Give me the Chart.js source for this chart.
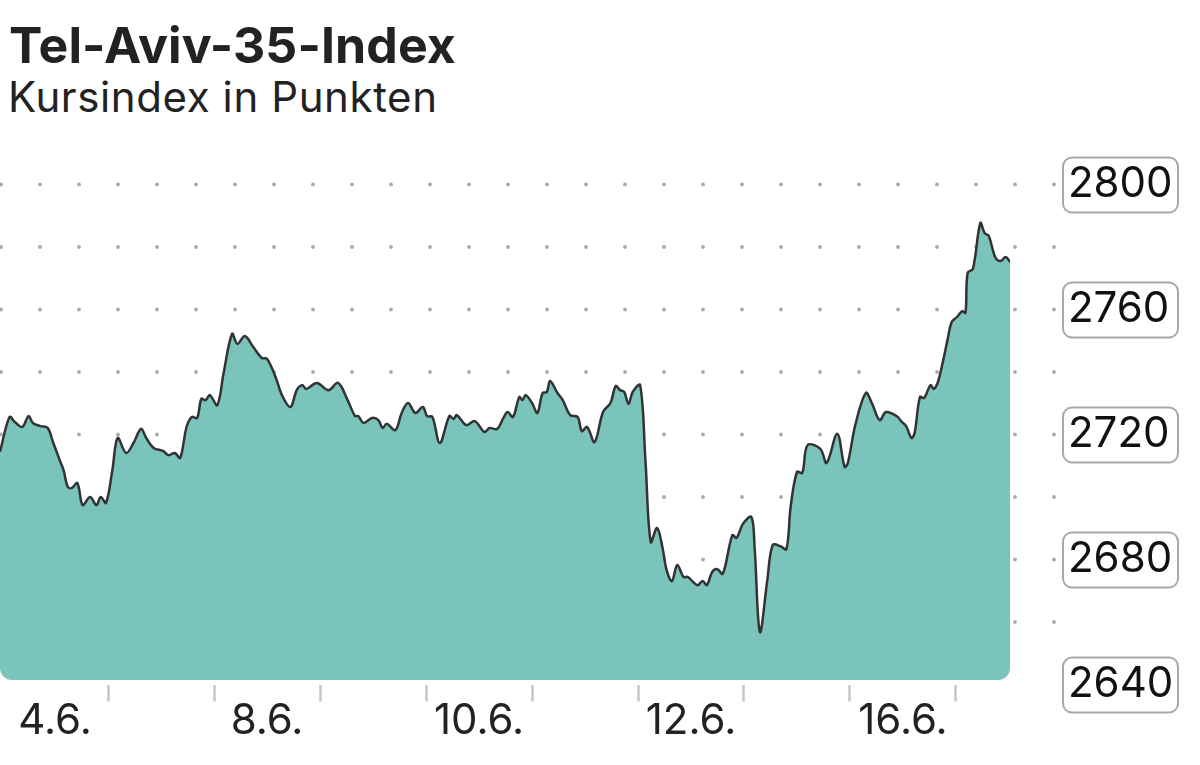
<!DOCTYPE html>
<html lang="de">
<head>
<meta charset="utf-8">
<title>Tel-Aviv-35-Index</title>
<script src="https://cdn.jsdelivr.net/npm/chart.js@4"></script>
<style>
    html, body { margin: 0; padding: 0; background: #fff; }
    body { width: 1200px; height: 765px; position: relative; overflow: hidden; font-family: Inter, "Noto Sans", sans-serif; color: #222; }
    .title { position: absolute; left: 9px; top: 20px; margin: 0; font-size: 50px; line-height: 50px; font-weight: 700; letter-spacing: 0.1px; white-space: nowrap; }
    .subtitle { position: absolute; left: 8px; top: 76px; margin: 0; font-size: 42px; line-height: 42px; font-weight: 400; letter-spacing: 0.6px; white-space: nowrap; }
    #wrap { position: absolute; left: 0; top: 0; width: 1200px; height: 765px; }
</style>
</head>
<body>
<h1 class="title">Tel-Aviv-35-Index</h1>
<p class="subtitle">Kursindex in Punkten</p>
<div id="wrap"><canvas id="chart"></canvas></div>

<script>
// Trading days (x in day units, one unit per day)
const days = ['4.6.', '5.6.', '8.6.', '9.6.', '10.6.', '11.6.', '12.6.', '15.6.', '16.6.', '17.6.'];
const labeledDayIndex = [0, 2, 4, 6, 8];

// Y axis
const yTicks = [2640, 2680, 2720, 2760, 2800];
const dotLevels = [2660, 2680, 2700, 2720, 2740, 2760, 2780, 2800];

// Intraday series
const times = [
    -0.02, 0.07, 0.12, 0.19, 0.25, 0.29, 0.36, 0.43, 0.48, 0.55, 0.58, 0.62, 0.66, 0.71, 0.76, 0.83, 0.89, 0.93, 0.98,
    1.04, 1.09, 1.17, 1.24, 1.31, 1.36, 1.43, 1.52, 1.57, 1.63, 1.68, 1.74, 1.79, 1.84, 1.88, 1.92, 1.96,
    2.03, 2.09, 2.17, 2.22, 2.29, 2.37, 2.45, 2.50, 2.58, 2.64, 2.72, 2.78, 2.83, 2.87, 2.97,
    3.08, 3.17, 3.26, 3.33, 3.36, 3.41, 3.49, 3.55, 3.59, 3.63, 3.71, 3.77, 3.83, 3.90, 3.97,
    4.01, 4.06, 4.13, 4.22, 4.26, 4.29, 4.38, 4.46, 4.55, 4.60, 4.67, 4.73, 4.77, 4.82, 4.88, 4.91, 4.94,
    5.00, 5.05, 5.10, 5.14, 5.17, 5.24, 5.29, 5.36, 5.43, 5.47, 5.52, 5.59, 5.67, 5.74, 5.79, 5.83, 5.87, 5.91, 5.95,
    6.02, 6.07, 6.12, 6.18, 6.23, 6.27, 6.32, 6.37, 6.43, 6.47, 6.56, 6.61, 6.65, 6.70, 6.75, 6.80, 6.89, 6.93, 6.99,
    7.07, 7.10, 7.15, 7.22, 7.27, 7.34, 7.40, 7.44, 7.50, 7.55, 7.60, 7.72, 7.78, 7.88, 7.95, 7.98,
    8.05, 8.15, 8.21, 8.28, 8.34, 8.44, 8.49, 8.53, 8.58, 8.61, 8.66, 8.70, 8.76, 8.79, 8.83, 8.88, 8.92, 8.96,
    9.01, 9.06, 9.09, 9.11, 9.16, 9.23, 9.27, 9.31, 9.37, 9.42, 9.47, 9.51
];
const values = [
    2714.5, 2725.6, 2724.0, 2722.4, 2725.9, 2723.7, 2722.7, 2722.1, 2717.6, 2711.2, 2708.6, 2703.2, 2702.9, 2704.5, 2697.4, 2700.0, 2697.4, 2700.0, 2698.1,
    2708.6, 2718.9, 2714.1, 2717.3, 2721.8, 2718.9, 2715.7, 2714.7, 2713.4, 2714.1, 2712.5, 2722.4, 2725.6, 2725.3, 2731.4, 2731.0, 2732.6,
    2729.4, 2739.7, 2752.2, 2749.0, 2751.5, 2748.0, 2744.5, 2744.2, 2738.4, 2732.6, 2728.8, 2734.2, 2735.8, 2734.6, 2736.5,
    2734.2, 2736.5, 2731.0, 2725.9, 2725.9, 2723.7, 2725.3, 2724.6, 2722.1, 2723.4, 2721.4, 2726.9, 2730.1, 2726.9, 2728.8,
    2725.9, 2725.6, 2717.3, 2725.9, 2725.0, 2726.2, 2723.0, 2724.3, 2720.8, 2722.1, 2721.8, 2725.3, 2727.2, 2725.6, 2732.0, 2731.0, 2732.6,
    2730.1, 2726.9, 2733.3, 2733.6, 2737.1, 2733.3, 2731.0, 2726.2, 2725.6, 2721.1, 2722.4, 2717.6, 2727.2, 2730.1, 2735.5, 2734.2, 2733.6, 2729.8, 2733.6,
    2735.8, 2711.8, 2685.6, 2690.1, 2684.0, 2676.6, 2673.1, 2678.2, 2674.4, 2674.4, 2671.8, 2673.1, 2671.8, 2676.0, 2676.9, 2675.4, 2687.8, 2686.9, 2691.4,
    2693.6, 2684.0, 2656.8, 2673.4, 2684.6, 2684.3, 2683.3, 2696.8, 2708.0, 2707.7, 2716.6, 2715.4, 2710.9, 2720.2, 2709.6, 2710.9,
    2723.0, 2733.3, 2729.8, 2724.6, 2727.2, 2725.9, 2724.0, 2722.7, 2718.9, 2720.5, 2732.0, 2731.7, 2735.8, 2734.6, 2736.8, 2743.8, 2750.2, 2756.0,
    2757.6, 2759.5, 2758.9, 2771.7, 2773.0, 2787.7, 2784.5, 2783.5, 2776.8, 2775.5, 2776.8, 2775.2
];

// Dotted horizontal grid behind the area
const dotGridPlugin = {
    id: 'dotGrid',
    beforeDatasetsDraw(chart) {
        const { ctx, chartArea } = chart;
        const y = chart.scales.y;
        ctx.save();
        ctx.fillStyle = '#a9a9a9';
        dotLevels.forEach(level => {
            const py = y.getPixelForValue(level);
            for (let px = chartArea.left + 1; px <= chartArea.right + 46; px += 39) {
                ctx.beginPath();
                ctx.arc(px, py, 1.9, 0, Math.PI * 2);
                ctx.fill();
            }
        });
        ctx.restore();
    }
};

// Rounded bottom corners for the area
const roundClipPlugin = {
    id: 'roundClip',
    beforeDatasetsDraw(chart) {
        const { ctx, chartArea } = chart;
        ctx.save();
        ctx.beginPath();
        ctx.roundRect(chartArea.left, 0, chartArea.right - chartArea.left, chartArea.bottom - 4.5, [0, 0, 12, 12]);
        ctx.clip();
    },
    afterDatasetsDraw(chart) {
        chart.ctx.restore();
    }
};

// Boxes behind the y tick labels
const labelBoxPlugin = {
    id: 'labelBoxes',
    beforeDraw(chart) {
        const { ctx, chartArea } = chart;
        const y = chart.scales.y;
        ctx.save();
        ctx.lineWidth = 2;
        ctx.strokeStyle = '#a8a8a8';
        ctx.fillStyle = '#fff';
        yTicks.forEach(v => {
            const py = y.getPixelForValue(v);
            ctx.beginPath();
            ctx.roundRect(chartArea.right + 53, py - 27, 115, 55, 9);
            ctx.fill();
            ctx.stroke();
        });
        ctx.restore();
    }
};

const points = times.map((t, i) => ({ x: t, y: values[i] }));

new Chart(document.getElementById('chart'), {
    type: 'line',
    data: {
        datasets: [{
            data: points,
            borderColor: '#333333',
            borderWidth: 2.5,
            backgroundColor: '#7ac4bb',
            fill: 'start',
            pointRadius: 0,
            tension: 0.35
        }]
    },
    options: {
        responsive: true,
        maintainAspectRatio: false,
        animation: false,
        layout: {
            padding: { top: 184.5, left: 0, right: 0, bottom: 0 }
        },
        plugins: {
            legend: { display: false },
            tooltip: { enabled: false }
        },
        scales: {
            x: {
                type: 'linear',
                min: -0.02,
                max: 9.51,
                afterBuildTicks: scale => {
                    const ticks = [];
                    for (let d = 1; d < days.length; d++) ticks.push({ value: d });
                    labeledDayIndex.forEach(i => ticks.push({ value: i + 0.5 }));
                    scale.ticks = ticks;
                },
                afterFit: scale => { scale.height = 80.5; },
                grid: {
                    drawOnChartArea: false,
                    tickLength: 17,
                    tickWidth: 2.5,
                    color: ctx => (ctx.tick && ctx.tick.value % 1 === 0) ? '#c6c6c6' : 'rgba(0,0,0,0)'
                },
                border: { display: false },
                ticks: {
                    autoSkip: false,
                    maxRotation: 0,
                    padding: -1,
                    color: '#222',
                    font: { family: 'Inter', size: 42, lineHeight: 1 },
                    callback: value => (value % 1 === 0) ? '' : days[Math.floor(value)]
                }
            },
            y: {
                position: 'right',
                min: 2640,
                max: 2800,
                afterBuildTicks: scale => { scale.ticks = yTicks.map(v => ({ value: v })); },
                afterFit: scale => { scale.width = 190; },
                grid: { display: false, drawTicks: false },
                border: { display: false },
                ticks: {
                    padding: 58,
                    color: '#111',
                    font: { family: 'Inter', size: 42, lineHeight: 1 },
                    callback: value => String(value)
                }
            }
        }
    },
    plugins: [labelBoxPlugin, dotGridPlugin, roundClipPlugin]
});
</script>
</body>
</html>
